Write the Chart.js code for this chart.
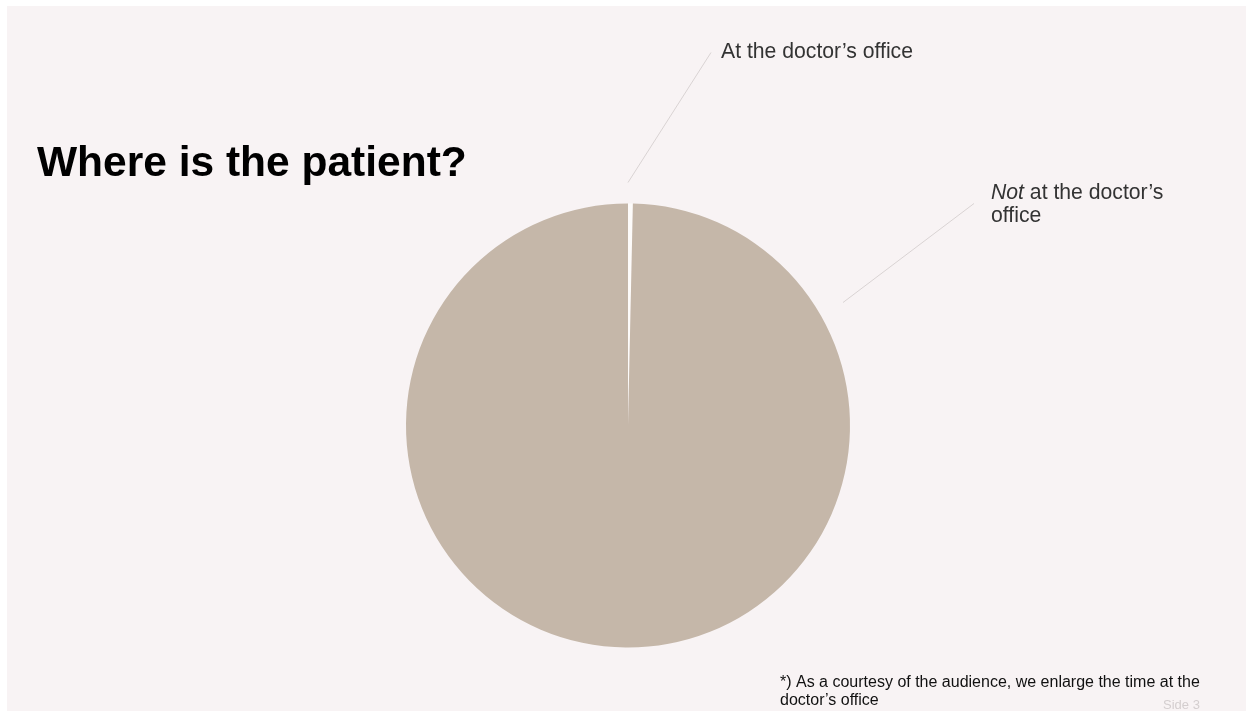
<!DOCTYPE html>
<html lang="en">
  <head>
    <title>Where is the patient?</title>
    <meta charset="utf-8" />
    <style>
      html, body { margin: 0; padding: 0; background: #ffffff; }
      #slide {
        position: absolute;
        left: 7px;
        top: 6px;
        width: 1239px;
        height: 705px;
        background: #f8f3f4;
      }
    </style>
  </head>
  <body>
    <div id="slide">
      <canvas id="lienzo" width="1239" height="705"></canvas>
    </div>

    <script src="https://cdn.jsdelivr.net/npm/chart.js"></script>
    <script>
      // datos
      const categorias = ["At the doctor\u2019s office", "Not at the doctor\u2019s office"];
      const valores = [0.35, 99.65];
      const colores = ["#fdfbfa", "#c5b7a9"];

      const textoDiapositiva = {
        id: "textoDiapositiva",
        afterDraw(chart) {
          const ctx = chart.ctx;
          const arco = chart.getDatasetMeta(0).data[0];
          const cx = arco.x;
          const cy = arco.y;
          const r = arco.outerRadius;

          ctx.save();
          // lineas guia
          ctx.strokeStyle = "#d9d3d3";
          ctx.lineWidth = 1;
          ctx.beginPath();
          ctx.moveTo(cx, cy - r - 21);
          ctx.lineTo(cx + 83, cy - r - 151);
          ctx.moveTo(cx + 215, cy - 123);
          ctx.lineTo(cx + 346, cy - 222);
          ctx.stroke();

          // titulo
          ctx.fillStyle = "#000000";
          ctx.textBaseline = "alphabetic";
          ctx.font = "bold 42.5px 'Liberation Sans', Arial, sans-serif";
          ctx.fillText("Where is the patient?", 30, 170);

          // etiquetas
          ctx.fillStyle = "#333333";
          ctx.font = "21.2px 'Liberation Sans', Arial, sans-serif";
          ctx.fillText(categorias[0], cx + 93, cy - r - 146);

          const x2 = cx + 363;
          ctx.font = "italic 21.2px 'Liberation Sans', Arial, sans-serif";
          ctx.fillText("Not", x2, 193);
          const w = ctx.measureText("Not").width;
          ctx.font = "21.2px 'Liberation Sans', Arial, sans-serif";
          ctx.fillText(" at the doctor\u2019s", x2 + w, 193);
          ctx.fillText("office", x2, 216);

          // nota
          ctx.fillStyle = "#111111";
          ctx.font = "16px 'Liberation Sans', Arial, sans-serif";
          ctx.fillText("*) As a courtesy of the audience, we enlarge the time at the", 773, 680.5);
          ctx.fillText("doctor\u2019s office", 773, 698.5);

          ctx.fillStyle = "#d4cecf";
          ctx.font = "13px 'Liberation Sans', Arial, sans-serif";
          ctx.fillText("Side 3", 1156, 703);
          ctx.restore();
        },
      };

      const contexto = document.querySelector("#lienzo");
      const graficoPastel = new Chart(contexto, {
        type: "pie",
        data: {
          labels: categorias,
          datasets: [
            {
              data: valores,
              backgroundColor: colores,
              borderWidth: 0,
            },
          ],
        },
        options: {
          responsive: false,
          animation: false,
          layout: {
            padding: { left: 399, right: 396, top: 197.5, bottom: 63.5 },
          },
          plugins: {
            legend: { display: false },
            tooltip: { enabled: false },
          },
        },
        plugins: [textoDiapositiva],
      });
    </script>
  </body>
</html>
